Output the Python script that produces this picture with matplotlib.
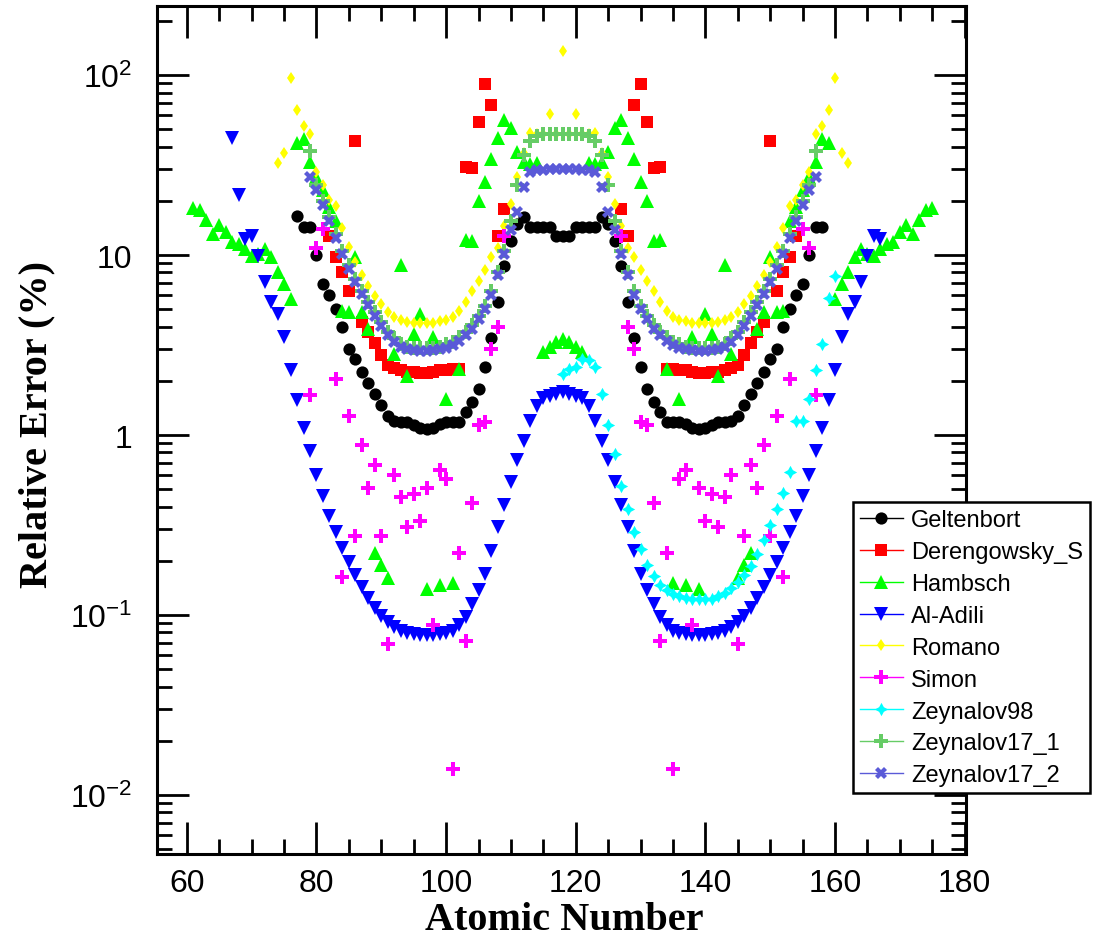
import matplotlib
matplotlib.use("Agg")
import matplotlib.pyplot as plt
from matplotlib.ticker import LogLocator, FixedLocator, FuncFormatter, MultipleLocator

plt.rcParams['font.family'] = ['Liberation Sans', 'DejaVu Sans']
plt.rcParams['mathtext.fontset'] = 'custom'
plt.rcParams['mathtext.rm'] = 'Liberation Sans'
plt.rcParams['mathtext.it'] = 'Liberation Sans:italic'
plt.rcParams['mathtext.bf'] = 'Liberation Sans:bold'

# ---------------- data: relative error (%) versus fragment mass number ----------------
geltenbort_A = list(range(77, 159))
geltenbort_err = [16.5, 14.3, 14.3, 10.0, 6.9, 6.0, 5.0, 4.0, 3.0, 2.65,
                  2.25, 1.95, 1.7, 1.46, 1.28, 1.2, 1.18, 1.18, 1.13, 1.1,
                  1.08, 1.1, 1.15, 1.18, 1.18, 1.18, 1.34, 1.52, 1.8, 2.4,
                  3.45, 5.5, 8.7, 12.0, 14.8, 16.3, 14.3, 14.3, 14.3, 14.3,
                  12.8, 12.8, 12.8, 14.3, 14.3, 14.3, 14.3, 16.3, 14.8, 12.0,
                  8.7, 5.5, 3.45, 2.4, 1.8, 1.52, 1.34, 1.18, 1.18, 1.18,
                  1.15, 1.1, 1.08, 1.1, 1.13, 1.18, 1.18, 1.2, 1.28, 1.46,
                  1.7, 1.95, 2.25, 2.65, 3.0, 4.0, 5.0, 6.0, 6.9, 10.0,
                  14.3, 14.3]

derengowsky_A = list(range(82, 110)) + list(range(127, 155))
derengowsky_err = [12.8, 9.8, 8.0, 6.35, 43.0, 4.24, 3.75, 3.25, 2.77, 2.45,
                   2.35, 2.3, 2.25, 2.25, 2.22, 2.22, 2.25, 2.3, 2.3, 2.32,
                   2.33, 30.8, 30.4, 55.0, 89.0, 68.0, 12.8, 18.1,
                   18.1, 12.8, 68.0, 89.0, 55.0, 30.4, 30.8, 2.33, 2.32, 2.3,
                   2.3, 2.25, 2.22, 2.22, 2.25, 2.25, 2.3, 2.35, 2.45, 2.77,
                   3.25, 3.75, 4.24, 43.0, 6.35, 8.0, 9.8, 12.8]

hambsch_A = list(range(61, 176))
hambsch_err = [18.2, 17.9, 15.7, 13.1, 14.7, 13.4, 11.8, 11.5, 10.8, 9.9,
               10.2, 10.8, 9.7, 8.0, 6.9, 5.7, 42.0, 44.0, 32.8, 27.0,
               22.9, 18.5, 15.5, 4.9, 4.8, 9.7, 4.8, 3.9, 0.22, 0.19,
               0.16, 2.83, 8.8, 2.12, 3.65, 4.7, 0.14, 3.5, 0.146, 1.59,
               0.15, 2.33, 12.1, 12.0, 20.0, 25.4, 34.2, 44.6, 56.5, 50.8,
               37.5, 33.0, 32.0, 32.5, 2.9, 3.1, 3.3, 3.4, 3.3, 3.1,
               2.9, 32.5, 32.0, 33.0, 37.5, 50.8, 56.5, 44.6, 34.2, 25.4,
               20.0, 12.0, 12.1, 2.33, 0.15, 1.59, 0.146, 3.5, 0.14, 4.7,
               3.65, 2.12, 8.8, 2.83, 0.16, 0.19, 0.22, 3.9, 4.8, 9.7,
               4.8, 4.9, 15.5, 18.5, 22.9, 27.0, 32.8, 44.0, 42.0, 5.7,
               6.9, 8.0, 9.7, 10.8, 10.2, 9.9, 10.8, 11.5, 11.8, 13.4,
               14.7, 13.1, 15.7, 17.9, 18.2]

aladili_A = list(range(67, 168))
aladili_err = [44.6, 21.6, 12.3, 12.8, 9.9, 7.1, 5.5, 4.7, 3.5, 2.3,
               1.57, 1.1, 0.82, 0.6, 0.46, 0.357, 0.288, 0.236, 0.197, 0.166,
               0.143, 0.124, 0.109, 0.099, 0.092, 0.086, 0.082, 0.079, 0.078, 0.077,
               0.077, 0.077, 0.078, 0.079, 0.082, 0.088, 0.098, 0.115, 0.137, 0.169,
               0.228, 0.308, 0.406, 0.547, 0.722, 0.93, 1.2, 1.45, 1.6, 1.65,
               1.7, 1.73, 1.7, 1.65, 1.6, 1.45, 1.2, 0.93, 0.722, 0.547,
               0.406, 0.308, 0.228, 0.169, 0.137, 0.115, 0.098, 0.088, 0.082, 0.079,
               0.078, 0.077, 0.077, 0.077, 0.078, 0.079, 0.082, 0.086, 0.092, 0.099,
               0.109, 0.124, 0.143, 0.166, 0.197, 0.236, 0.288, 0.357, 0.46, 0.6,
               0.82, 1.1, 1.57, 2.3, 3.5, 4.7, 5.5, 7.1, 9.9, 12.8,
               12.3]

romano_A = list(range(74, 163))
romano_err = [32.5, 37.0, 96.5, 64.0, 52.0, 47.0, 29.0, 24.5, 20.3, 18.8,
              14.2, 11.1, 9.1, 7.7, 6.7, 5.95, 5.35, 4.85, 4.55, 4.35,
              4.25, 4.2, 4.2, 4.2, 4.2, 4.3, 4.35, 4.5, 4.9, 5.5,
              6.3, 7.2, 8.3, 9.8, 11.0, 14.5, 19.3, 27.3, 37.0, 47.7,
              47.0, 47.0, 60.6, 47.0, 136.0, 47.0, 60.6, 47.0, 47.0, 47.7,
              37.0, 27.3, 19.3, 14.5, 11.0, 9.8, 8.3, 7.2, 6.3, 5.5,
              4.9, 4.5, 4.35, 4.3, 4.2, 4.2, 4.2, 4.2, 4.25, 4.35,
              4.55, 4.85, 5.35, 5.95, 6.7, 7.7, 9.1, 11.1, 14.2, 18.8,
              20.3, 24.5, 29.0, 47.0, 52.0, 64.0, 96.5, 37.0, 32.5]

simon_A = [79, 80, 81, 83, 84, 85, 86, 87, 88, 89, 90, 91, 92, 93, 94, 95, 96,
           97, 98, 99, 100, 101, 102, 103, 104, 105, 106, 107, 108, 109,
           127, 128, 129, 130, 131, 132, 133, 134, 135, 136, 137, 138, 139,
           140, 141, 142, 143, 144, 145, 146, 147, 148, 149, 150, 151, 152,
           153, 155, 156, 157]
simon_err = [1.67, 11.0, 13.9, 2.05, 0.162, 1.28, 0.275, 0.88, 0.51, 0.68, 0.275,
             0.069, 0.6, 0.45, 0.31, 0.47, 0.335, 0.51, 0.088, 0.64, 0.57, 0.014,
             0.22, 0.072, 0.42, 1.13, 1.18, 3.0, 4.0, 12.7,
             12.7, 4.0, 3.0, 1.18, 1.13, 0.42, 0.072, 0.22, 0.014, 0.57, 0.64,
             0.088, 0.51, 0.335, 0.47, 0.31, 0.45, 0.6, 0.069, 0.275, 0.68, 0.51,
             0.88, 0.275, 1.28, 0.162, 2.05, 13.9, 11.0, 1.67]

zeynalov98_A = list(range(118, 161))
zeynalov98_err = [2.19, 2.34, 2.39, 2.63, 2.6, 2.39, 1.69, 1.13, 0.78, 0.52,
                  0.39, 0.288, 0.232, 0.19, 0.164, 0.147, 0.137, 0.131, 0.127, 0.125,
                  0.123, 0.122, 0.122, 0.123, 0.127, 0.133, 0.141, 0.152, 0.167, 0.188,
                  0.219, 0.26, 0.317, 0.39, 0.477, 0.627, 1.19, 1.19, 1.59, 2.31,
                  3.21, 5.77, 7.64]

zeynalov17_1_A = list(range(79, 158))
zeynalov17_1_err = [38.0, 24.5, 20.0, 16.3, 13.1, 10.6, 8.8, 7.4, 6.35, 5.5,
                    4.8, 4.25, 3.75, 3.45, 3.2, 3.1, 3.05, 3.05, 3.05, 3.05,
                    3.1, 3.2, 3.3, 3.5, 3.75, 4.1, 4.6, 5.2, 6.3, 8.0,
                    10.5, 15.5, 24.5, 36.0, 43.0, 46.0, 47.0, 47.0, 47.0, 47.0,
                    47.0, 47.0, 47.0, 46.0, 43.0, 36.0, 24.5, 15.5, 10.5, 8.0,
                    6.3, 5.2, 4.6, 4.1, 3.75, 3.5, 3.3, 3.2, 3.1, 3.05,
                    3.05, 3.05, 3.05, 3.1, 3.2, 3.45, 3.75, 4.25, 4.8, 5.5,
                    6.35, 7.4, 8.8, 10.6, 13.1, 16.3, 20.0, 24.5, 38.0]

zeynalov17_2_A = list(range(79, 158))
zeynalov17_2_err = [27.0, 23.1, 19.0, 15.5, 12.5, 10.1, 8.4, 7.07, 6.05, 5.25,
                    4.6, 4.05, 3.6, 3.3, 3.1, 3.0, 2.95, 2.93, 2.93, 2.95,
                    3.0, 3.05, 3.15, 3.35, 3.6, 3.9, 4.4, 5.0, 6.0, 7.7,
                    10.1, 13.7, 17.3, 23.8, 29.0, 29.5, 29.5, 30.0, 30.0, 30.0,
                    30.0, 30.0, 29.5, 29.5, 29.0, 23.8, 17.3, 13.7, 10.1, 7.7,
                    6.0, 5.0, 4.4, 3.9, 3.6, 3.35, 3.15, 3.05, 3.0, 2.95,
                    2.93, 2.93, 2.95, 3.0, 3.1, 3.3, 3.6, 4.05, 4.6, 5.25,
                    6.05, 7.07, 8.4, 10.1, 12.5, 15.5, 19.0, 23.1, 27.0]

series_names = ["Geltenbort", "Derengowsky_S", "Hambsch", "Al-Adili", "Romano",
                "Simon", "Zeynalov98", "Zeynalov17_1", "Zeynalov17_2"]

x_ticks = [60, 80, 100, 120, 140, 160, 180]
y_ticks = [0.01, 0.1, 1, 10, 100]
y_tick_labels = [r"$10^{-2}$", r"$10^{-1}$", "1", "10", r"$10^{2}$"]

# ---------------- styles ----------------
styles = [
    dict(color="#000000", marker="o", ms=8.8),
    dict(color="#ff0000", marker="s", ms=9.2),
    dict(color="#00ff00", marker="^", ms=9.6),
    dict(color="#0000ff", marker="v", ms=9.6),
    dict(color="#ffff00", marker="d", ms=6.6),
    dict(color="#ff00ff", marker="P", ms=9.6),
    dict(color="#00ffff", marker=(4, 1, 0), ms=9.6),
    dict(color="#66cc66", marker="P", ms=9.6),
    dict(color="#5a5ad8", marker="X", ms=9.2),
]

data = [
    (geltenbort_A, geltenbort_err),
    (derengowsky_A, derengowsky_err),
    (hambsch_A, hambsch_err),
    (aladili_A, aladili_err),
    (romano_A, romano_err),
    (simon_A, simon_err),
    (zeynalov98_A, zeynalov98_err),
    (zeynalov17_1_A, zeynalov17_1_err),
    (zeynalov17_2_A, zeynalov17_2_err),
]

fig = plt.figure(figsize=(11.02, 9.45), dpi=100)
ax = fig.add_axes([157 / 1102, 90 / 945, 809 / 1102, 848 / 945])

handles = []
for (A, err), name, st in zip(data, series_names, styles):
    ax.plot(A, err, linestyle="none", marker=st["marker"], ms=st["ms"],
            color=st["color"], markeredgewidth=0)
    h, = ax.plot([], [], linestyle="-", lw=1.0, marker=st["marker"], ms=st["ms"],
                 color=st["color"], markeredgewidth=0, label=name)
    handles.append(h)

ax.set_yscale("log")
ax.set_xlim(55.4, 180.2)
ax.set_ylim(0.0047, 242)

ax.xaxis.set_major_locator(FixedLocator(x_ticks))
ax.xaxis.set_minor_locator(MultipleLocator(5))
ax.yaxis.set_major_locator(FixedLocator(y_ticks))
ax.yaxis.set_minor_locator(LogLocator(base=10, subs=range(2, 10), numticks=20))
ax.set_yticklabels(y_tick_labels)
ax.yaxis.set_minor_formatter(FuncFormatter(lambda v, p: ""))

for s in ax.spines.values():
    s.set_linewidth(2.2)
ax.tick_params(which="both", direction="in", top=True, right=True, width=2.0)
ax.tick_params(which="major", length=23)
ax.tick_params(which="minor", length=11)
ax.tick_params(axis="x", which="major", labelsize=23, pad=10)
ax.tick_params(axis="y", which="major", labelsize=23, pad=18)

fig.text(37 / 1102, 1 - 424 / 945, "Relative Error (%)", rotation=90,
         ha="center", va="center", fontsize=29, fontweight="bold",
         family=["Liberation Serif", "DejaVu Serif"])
fig.text(564 / 1102, 1 - 921 / 945, "Atomic Number", ha="center", va="center",
         fontsize=29, fontweight="bold", family=["Liberation Serif", "DejaVu Serif"])

leg = ax.legend(handles=handles, loc="upper left",
                bbox_to_anchor=(853 / 1102, 1 - 503 / 945),
                bbox_transform=fig.transFigure, fontsize=17, frameon=True,
                fancybox=False, borderaxespad=0, borderpad=0.3,
                handlelength=1.8, handletextpad=0.35, labelspacing=0.42)
leg.get_frame().set_edgecolor("black")
leg.get_frame().set_linewidth(1.8)
leg.get_frame().set_alpha(1)

fig.savefig("out.png", dpi=100)
